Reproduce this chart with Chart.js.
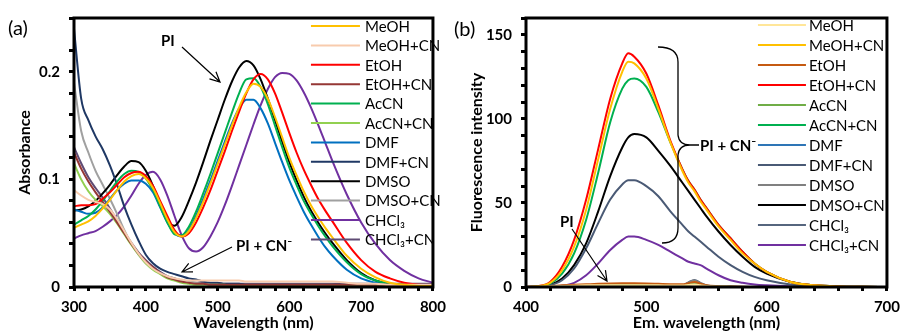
<!DOCTYPE html>
<html lang="en">
<head>
<meta charset="UTF-8">
<title>PI absorbance and fluorescence</title>
<script src="https://cdn.jsdelivr.net/npm/chart.js"></script>
<style>
  html, body { margin: 0; padding: 0; background: #fff; }
  .janela { position: relative; width: 907px; height: 331px; overflow: hidden; }
  .painel { position: absolute; top: 0; height: 331px; }
  #painelA { left: 0; width: 453px; }
  #painelB { left: 453px; width: 454px; }
</style>
</head>
<body>
<div class="janela">
  <div class="painel" id="painelA"><canvas id="graficoA"></canvas></div>
  <div class="painel" id="painelB"><canvas id="graficoB"></canvas></div>
</div>

<script>
// ---- (a) absorbance ----
const comprimentosA = [300,310,320,330,340,350,360,370,380,390,400,410,420,430,440,450,460,470,480,490,
                       500,510,520,530,540,550,560,570,580,590,600,610,620,630,640,650,660,680,700,720,740,760,780,800];
const solventesA = ['MeOH','MeOH+CN','EtOH','EtOH+CN','AcCN','AcCN+CN','DMF','DMF+CN','DMSO','DMSO+CN','CHCl₃','CHCl₃+CN'];

const absMeOH    = [.055,.058,.061,.066,.073,.081,.090,.098,.103,.105,.101,.092,.078,.063,.051,.047,.052,.064,.079,.096,.114,.132,.150,.167,.181,.189,.186,.175,.158,.139,.120,.104,.089,.076,.065,.055,.046,.029,.017,.009,.004,.002,.001,.001];
const absMeOHCN  = [.090,.085,.081,.079,.077,.072,.063,.052,.041,.031,.023,.017,.013,.010,.008,.007,.006,.006,.006,.006,.006,.006,.006,.006,.005,.005,.005,.005,.005,.005,.005,.005,.005,.005,.005,.005,.005,.004,.003,.003,.002,.002,.002,.002];
const absEtOH    = [.075,.076,.076,.077,.082,.088,.095,.102,.106,.107,.103,.094,.080,.066,.053,.047,.050,.060,.074,.090,.108,.126,.145,.163,.180,.193,.198,.193,.180,.162,.143,.125,.109,.095,.082,.071,.061,.041,.025,.014,.008,.004,.002,.001];
const absEtOHCN  = [.125,.110,.098,.088,.079,.070,.060,.050,.040,.031,.024,.018,.013,.009,.007,.005,.004,.003,.003,.002,.002,.002,.002,.002,.002,.002,.002,.002,.002,.002,.002,.002,.002,.002,.002,.002,.002,.002,.002,.002,.002,.002,.002,.002];
const absAcCN    = [.058,.062,.066,.072,.080,.089,.098,.105,.108,.107,.101,.090,.075,.060,.049,.048,.056,.070,.087,.105,.124,.143,.162,.180,.193,.194,.186,.170,.150,.130,.111,.095,.080,.068,.057,.047,.038,.023,.012,.006,.003,.002,.001,.001];
const absAcCNCN  = [.115,.100,.089,.081,.075,.068,.059,.049,.039,.030,.022,.016,.012,.008,.006,.004,.003,.002,.002,.002,.002,.002,.001,.001,.001,.001,.001,.001,.001,.001,.001,.001,.001,.001,.001,.001,.001,.001,.001,.001,.001,.001,.001,.001];
const absDMF     = [.072,.070,.068,.069,.074,.082,.090,.096,.099,.099,.096,.088,.074,.060,.050,.047,.053,.066,.082,.099,.117,.135,.152,.166,.174,.174,.166,.152,.134,.116,.099,.084,.070,.058,.047,.037,.029,.016,.008,.004,.002,.001,.001,.001];
const absDMFCN   = [.240,.175,.155,.140,.128,.113,.095,.075,.058,.043,.030,.022,.017,.014,.012,.010,.008,.007,.005,.004,.004,.003,.003,.003,.002,.002,.002,.002,.002,.002,.002,.002,.002,.002,.002,.002,.002,.002,.002,.002,.002,.002,.002,.002];
const absDMSO    = [.071,.072,.075,.080,.087,.095,.104,.112,.117,.116,.108,.094,.077,.062,.057,.065,.080,.097,.116,.136,.155,.174,.191,.204,.210,.206,.193,.175,.155,.135,.116,.099,.084,.071,.060,.050,.041,.025,.013,.006,.003,.002,.001,.001];
const absDMSOCN  = [.190,.145,.125,.108,.095,.082,.068,.053,.040,.030,.022,.017,.013,.010,.008,.006,.005,.004,.003,.003,.003,.002,.002,.002,.002,.002,.002,.002,.002,.002,.002,.002,.002,.002,.002,.002,.002,.001,.001,.001,.001,.001,.001,.001];
const absCHCl3   = [.045,.048,.050,.052,.056,.061,.067,.075,.085,.096,.104,.107,.100,.085,.066,.048,.036,.033,.037,.047,.060,.076,.094,.113,.132,.151,.169,.184,.195,.199,.198,.192,.181,.167,.151,.134,.117,.086,.060,.040,.025,.015,.008,.004];
const absCHCl3CN = [.130,.115,.102,.092,.083,.073,.062,.051,.041,.032,.025,.019,.014,.010,.008,.006,.005,.004,.004,.003,.003,.003,.003,.003,.003,.003,.003,.003,.003,.003,.003,.003,.003,.003,.003,.003,.003,.003,.003,.003,.003,.003,.003,.003];

const rotulosXA = [300, 400, 500, 600, 700, 800];
const rotulosYA = [0, 0.1, 0.2];

// ---- (b) fluorescence ----
const comprimentosB = [400,410,420,430,440,450,460,470,480,485,490,500,510,520,530,535,540,545,550,560,570,580,590,600,620,640,660,680,700];
const solventesB = ['MeOH','MeOH+CN','EtOH','EtOH+CN','AcCN','AcCN+CN','DMF','DMF+CN','DMSO','DMSO+CN','CHCl₃','CHCl₃+CN'];

const flMeOH    = [0,0.2,0.4,0.6,0.8,1,1,1.1,1.1,1.1,1.1,1,1,0.9,0.9,1.2,1.5,1,0.6,0.3,0.2,0.1,0,0,0,0,0,0,0];
const flMeOHCN  = [0,0.4,2.5,10,24,46,76,106,128,134,133,124,106,86,69,62,57,51,46,36,28,20,14,9,3,1,0.3,0.1,0];
const flEtOH    = [0,0.3,0.6,1,1.3,1.6,1.9,2.1,2.2,2.2,2.2,2.1,1.9,1.7,1.6,2.3,3,2,1,0.5,0.3,0.1,0,0,0,0,0,0,0];
const flEtOHCN  = [0,0.5,3,12,28,52,82,112,133,139,137,127,108,87,70,63,58,52,47,37,29,21,14,9,3,1,0.3,0.1,0];
const flAcCN    = [0,0.2,0.4,0.6,0.8,1,1.1,1.2,1.2,1.2,1.2,1.1,1,0.9,0.9,1.6,2.5,1.5,0.6,0.3,0.1,0,0,0,0,0,0,0,0];
const flAcCNCN  = [0,0.3,2,8,20,40,68,98,118,123,124,119,104,86,70,63,58,52,47,37,29,21,14,9,3,1,0.3,0.1,0];
const flDMF     = [0,0.1,0.3,0.5,0.6,0.8,0.9,0.9,1,1,1,0.9,0.8,0.8,0.8,1.4,2.2,1.3,0.5,0.2,0.1,0,0,0,0,0,0,0,0];
const flDMFCN   = [0,0.2,1,4,11,23,38,52,61,63.5,63.5,60,54,45,37,33,30,27,24,18,13,9,6,4,1.5,0.5,0.2,0,0];
const flDMSO    = [0,0.2,0.4,0.6,0.8,0.9,1,1.1,1.1,1.1,1.1,1,1,0.9,1,2.5,3.8,2.3,0.8,0.3,0.1,0,0,0,0,0,0,0,0];
const flDMSOCN  = [0,0.2,1.2,5,13,26,45,66,83,89,91,89,81,72,62,57,52,47,42,33,25,18,12,8,3,1,0.3,0.1,0];
const flCHCl3   = [0,0.2,0.3,0.5,0.7,0.8,0.9,1,1,1,1,0.9,0.9,0.8,1,2.8,4.2,2.5,0.9,0.3,0.1,0,0,0,0,0,0,0,0];
const flCHCl3CN = [0,0,0.2,0.7,2.5,7,14,22,28,30,30,28,25,21,17,15,14,13,11,7,4,2.5,1.5,1,0.4,0.1,0,0,0];

const rotulosXB = [400, 500, 600, 700];
const rotulosYB = [0, 50, 100, 150];

const coresA = ['#FFC000','#F8CBAD','#FF0000','#953735','#00B050','#92D050','#0070C0','#1F3864','#000000','#A0A0A0','#7030A0','#5F4B74'];
const coresB = ['#FFE699','#FFC000','#C55A11','#FF0000','#70AD47','#00B050','#2E75B6','#4A5A75','#808080','#000000','#56667E','#7030A0'];

Chart.defaults.font.family = 'Lato, "Liberation Sans", sans-serif';
Chart.defaults.color = '#000';

function montarSeries(comprimentos, nomes, cores, series) {
    return series.map((valores, i) => ({
        label: nomes[i],
        data: valores.map((v, j) => ({ x: comprimentos[j], y: v })),
        borderColor: cores[i],
        borderWidth: 2,
        pointRadius: 0,
        fill: false,
        cubicInterpolationMode: 'monotone'
    }));
}

function seta(ctx, x1, y1, x2, y2) {
    const ang = Math.atan2(y2 - y1, x2 - x1);
    ctx.beginPath();
    ctx.moveTo(x1, y1);
    ctx.lineTo(x2, y2);
    ctx.moveTo(x2 - 11 * Math.cos(ang - 0.45), y2 - 11 * Math.sin(ang - 0.45));
    ctx.lineTo(x2, y2);
    ctx.lineTo(x2 - 11 * Math.cos(ang + 0.45), y2 - 11 * Math.sin(ang + 0.45));
    ctx.stroke();
}

// moldura, legenda interna e anotações
const extras = {
    id: 'extras',
    afterDraw(chart, args, op) {
        const ctx = chart.ctx;
        const a = chart.chartArea;
        ctx.save();
        ctx.strokeStyle = '#000';
        ctx.lineWidth = 3;
        ctx.strokeRect(a.left, a.top, a.right - a.left, a.bottom - a.top);

        // legenda
        ctx.font = '15px Lato, "Liberation Sans", sans-serif';
        ctx.textBaseline = 'middle';
        ctx.textAlign = 'left';
        chart.data.datasets.forEach((ds, i) => {
            const y = op.legY + i * op.legDy;
            ctx.strokeStyle = ds.borderColor;
            ctx.lineWidth = 2;
            ctx.beginPath();
            ctx.moveTo(a.right - op.legL1, y);
            ctx.lineTo(a.right - op.legL2, y);
            ctx.stroke();
            ctx.fillStyle = '#000';
            ctx.fillText(ds.label, a.right - op.legTx, y + 1);
        });

        ctx.fillStyle = '#000';
        ctx.font = '20px Lato, "Liberation Sans", sans-serif';
        ctx.fillText(op.letra, op.letraX, op.letraY);

        ctx.strokeStyle = '#000';
        ctx.lineWidth = 1.2;
        ctx.font = 'bold 15px Lato, "Liberation Sans", sans-serif';
        op.textos.forEach(t => ctx.fillText(t[0], t[1], t[2]));
        op.setas.forEach(s => seta(ctx, s[0], s[1], s[2], s[3]));
        if (op.chave) op.chave(ctx);
        ctx.restore();
    }
};

function eixos(xmin, xmax, xpasso, rotX, ymax, ypasso, rotY, tituloX, tituloY, largY, padTitY) {
    const marca = (lista) => (v) => lista.some(r => Math.abs(r - v) < 1e-9) ? String(v) : '';
    return {
        x: {
            type: 'linear', min: xmin, max: xmax,
            ticks: { stepSize: xpasso, autoSkip: false, maxRotation: 0, callback: marca(rotX),
                     font: { size: 15, weight: 'bold' }, padding: 7 },
            grid: { drawOnChartArea: false, tickLength: 4, tickWidth: 3, tickColor: '#000' },
            border: { display: false },
            title: { display: true, text: tituloX, font: { size: 16, weight: 'bold' }, padding: { top: 0, bottom: -1 } },
            afterFit: s => { s.height = 44; }
        },
        y: {
            type: 'linear', min: 0, max: ymax,
            ticks: { stepSize: ypasso, autoSkip: false, callback: marca(rotY),
                     font: { size: 15, weight: 'bold' }, padding: 9 },
            grid: { drawOnChartArea: false, tickLength: 5, tickWidth: 3, tickColor: '#000' },
            border: { display: false },
            title: { display: true, text: tituloY, font: { size: 16, weight: 'bold' }, padding: { top: padTitY, bottom: 0 } },
            afterFit: s => { s.width = largY; }
        }
    };
}

function plotarAbsorbancia() {
    new Chart(document.getElementById('graficoA'), {
        type: 'line',
        data: { datasets: montarSeries(comprimentosA, solventesA, coresA,
            [absMeOH, absMeOHCN, absEtOH, absEtOHCN, absAcCN, absAcCNCN, absDMF, absDMFCN, absDMSO, absDMSOCN, absCHCl3, absCHCl3CN]) },
        options: {
            responsive: true, maintainAspectRatio: false, animation: false,
            layout: { padding: { left: 0, top: 13, right: 10, bottom: 0 } },
            plugins: {
                legend: { display: false }, tooltip: { enabled: false },
                extras: {
                    legY: 26, legDy: 19.4, legL1: 122, legL2: 73, legTx: 68,
                    letra: '(a)', letraX: 8, letraY: 29,
                    textos: [['PI', 161, 41], ['PI + CN⁻', 236, 246]],
                    setas: [[182, 47, 220, 82], [232, 247, 182, 272]]
                }
            },
            scales: eixos(300, 800, 20, rotulosXA, 0.25, 0.02, rotulosYA, 'Wavelength (nm)', 'Absorbance', 74, 15)
        },
        plugins: [extras]
    });
}

function plotarFluorescencia() {
    const dx = 453;
    new Chart(document.getElementById('graficoB'), {
        type: 'line',
        data: { datasets: montarSeries(comprimentosB, solventesB, coresB,
            [flMeOH, flMeOHCN, flEtOH, flEtOHCN, flAcCN, flAcCNCN, flDMF, flDMFCN, flDMSO, flDMSOCN, flCHCl3, flCHCl3CN]) },
        options: {
            responsive: true, maintainAspectRatio: false, animation: false,
            layout: { padding: { left: 0, top: 12, right: 13, bottom: 0 } },
            plugins: {
                legend: { display: false }, tooltip: { enabled: false },
                extras: {
                    legY: 25, legDy: 20, legL1: 129, legL2: 81, legTx: 78,
                    letra: '(b)', letraX: 1, letraY: 30,
                    textos: [['PI', 560 - dx, 222], ['PI + CN⁻', 700 - dx, 146]],
                    setas: [[572 - dx, 229, 607 - dx, 281]],
                    chave: (ctx) => {
                        ctx.lineWidth = 1.3;
                        ctx.beginPath();
                        ctx.moveTo(658 - dx, 47);
                        ctx.quadraticCurveTo(678 - dx, 47, 678 - dx, 62);
                        ctx.lineTo(678 - dx, 135);
                        ctx.quadraticCurveTo(679 - dx, 145, 690 - dx, 145);
                        ctx.quadraticCurveTo(679 - dx, 145, 678 - dx, 155);
                        ctx.lineTo(678 - dx, 228);
                        ctx.quadraticCurveTo(678 - dx, 243, 662 - dx, 243);
                        ctx.moveTo(690 - dx, 145);
                        ctx.lineTo(699 - dx, 145);
                        ctx.stroke();
                    }
                }
            },
            scales: eixos(400, 700, 20, rotulosXB, 160, 10, rotulosYB, 'Em. wavelength (nm)', 'Fluorescence intensity', 73, 14)
        },
        plugins: [extras]
    });
}

window.onload = () => {
    plotarAbsorbancia();
    plotarFluorescencia();
}
</script>
</body>
</html>
